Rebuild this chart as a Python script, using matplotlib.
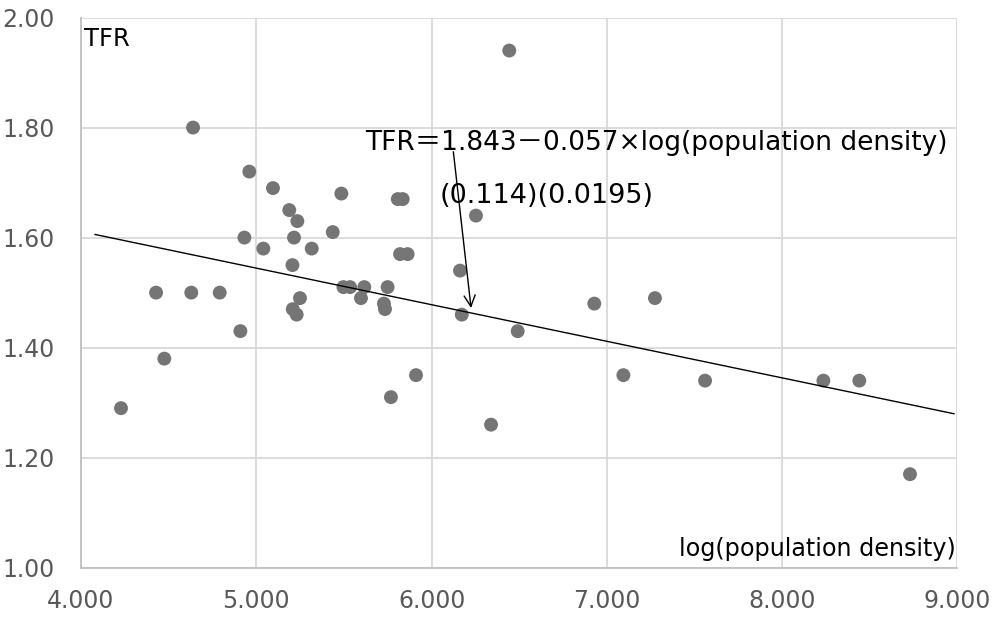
import numpy as np
import matplotlib.pyplot as plt

plt.rcParams['font.family'] = ['DejaVu Sans', 'Noto Sans CJK JP']

# log(population density) and TFR, one point per prefecture
log_density = [4.228, 4.475, 4.428, 4.629, 4.791, 4.639, 4.960, 5.095, 4.932, 5.040,
               4.909, 5.188, 5.234, 5.215, 5.316, 5.436, 5.485, 5.807, 5.835, 5.820,
               5.863, 5.206, 5.497, 5.535, 5.616, 5.597, 5.749, 5.728, 5.734, 5.249,
               5.208, 5.230, 6.253, 6.162, 6.172, 6.491, 5.911, 5.768, 6.339, 6.928,
               7.094, 7.274, 7.560, 8.235, 8.440, 8.729, 6.443]
tfr = [1.29, 1.38, 1.50, 1.50, 1.50, 1.80, 1.72, 1.69, 1.60, 1.58,
       1.43, 1.65, 1.63, 1.60, 1.58, 1.61, 1.68, 1.67, 1.67, 1.57,
       1.57, 1.55, 1.51, 1.51, 1.51, 1.49, 1.51, 1.48, 1.47, 1.49,
       1.47, 1.46, 1.64, 1.54, 1.46, 1.43, 1.35, 1.31, 1.26, 1.48,
       1.35, 1.49, 1.34, 1.34, 1.34, 1.17, 1.94]

# trendline as drawn in the chart
trend_range = [4.08, 8.98]
trend_intercept = 1.877
trend_slope = -0.0665

x_ticks = [4.0, 5.0, 6.0, 7.0, 8.0, 9.0]
y_ticks = [1.0, 1.2, 1.4, 1.6, 1.8, 2.0]

fig = plt.figure(figsize=(9.98, 6.17), dpi=100)
ax = fig.add_axes([0.0812, 0.0799, 0.8782, 0.8917])

ax.scatter(log_density, tfr, s=100, color='#757575', edgecolors='none', zorder=3)

tx = np.array(trend_range)
ax.plot(tx, trend_intercept + trend_slope * tx, color='black', linewidth=1.0, zorder=4)

ax.set_xlim(4.0, 9.0)
ax.set_ylim(1.0, 2.0)
ax.set_xticks(x_ticks)
ax.set_yticks(y_ticks)
ax.set_xticklabels(['%.3f' % v for v in x_ticks])
ax.set_yticklabels(['%.2f' % v for v in y_ticks])
ax.tick_params(length=0, labelsize=17, labelcolor='#595959')
ax.tick_params(axis='x', pad=15)
ax.tick_params(axis='y', pad=19)
ax.grid(True, color='#d9d9d9', linewidth=1.3)
ax.set_axisbelow(True)
for side in ['top', 'right']:
    ax.spines[side].set_visible(False)
for side in ['left', 'bottom']:
    ax.spines[side].set_color('#bfbfbf')
    ax.spines[side].set_linewidth(1.3)

ax.text(0.003, 0.983, 'TFR', transform=ax.transAxes, fontsize=17.5, va='top', ha='left')
ax.text(0.998, 0.012, 'log(population density)', transform=ax.transAxes,
        fontsize=17.2, va='bottom', ha='right')

ax.text(5.620, 1.759, 'TFR＝1.843－0.057×log(population density)', fontsize=19,
        va='baseline', ha='left')
ax.text(6.048, 1.663, '(0.114)(0.0195)', fontsize=19.5, va='baseline', ha='left')

ax.annotate('', xy=(6.225, 1.472), xytext=(6.124, 1.756),
            arrowprops=dict(arrowstyle='->,head_length=0.8,head_width=0.4',
                            color='black', linewidth=1.0, shrinkA=0, shrinkB=0),
            zorder=5)

fig.savefig('out.png', dpi=100)
